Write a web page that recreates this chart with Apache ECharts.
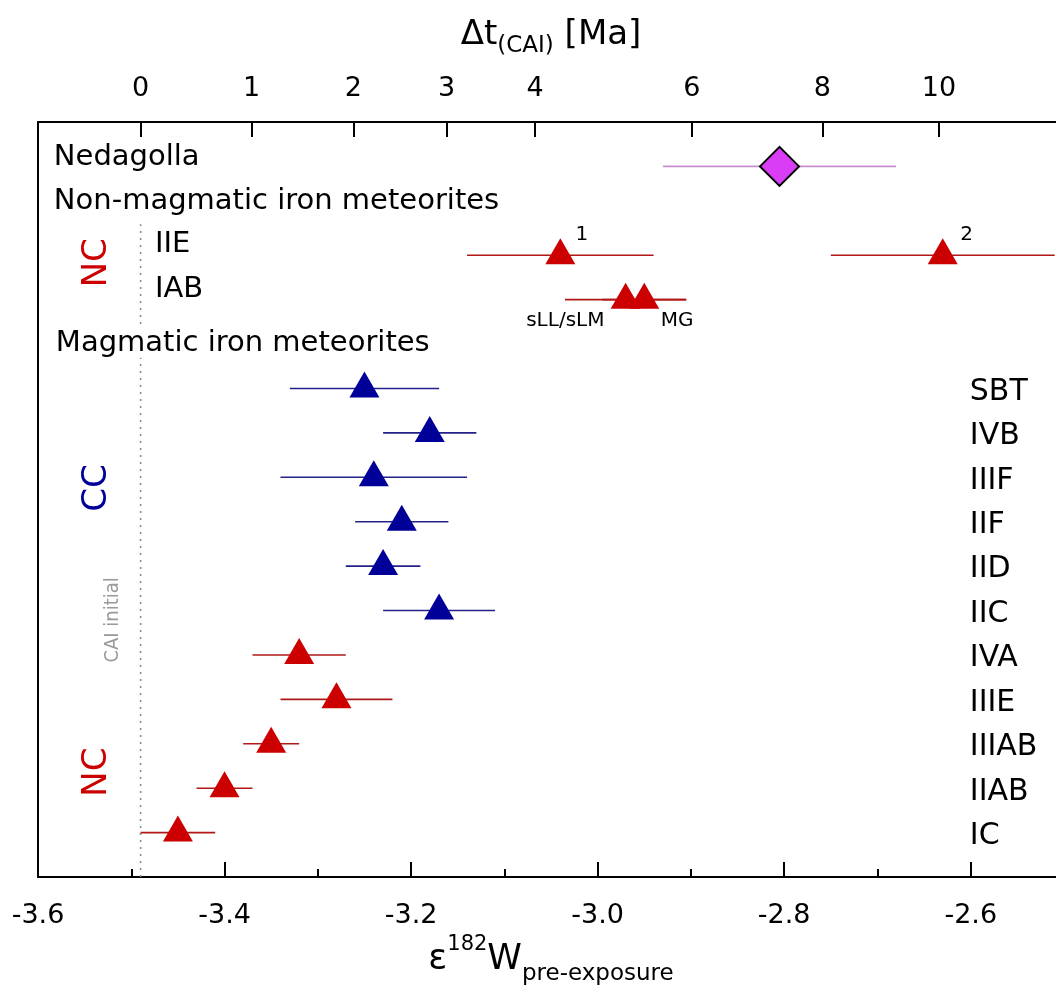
<!DOCTYPE html>
<html><head><meta charset="utf-8">
<script src="https://cdn.jsdelivr.net/npm/echarts@6/dist/echarts.min.js"></script>
<style>html,body{margin:0;padding:0;background:#fff;overflow:hidden}#c{width:1064px;height:1007px}</style>
</head><body><div id="c"></div>
<script>
// ---------------- DATA ----------------
// Magmatic iron meteorite groups (bottom to top)
const magmaticGroups = ['IC','IIAB','IIIAB','IIIE','IVA','IIC','IID','IIF','IIIF','IVB','SBT'];
const magmaticEps    = [-3.45,-3.40,-3.35,-3.28,-3.32,-3.17,-3.23,-3.21,-3.24,-3.18,-3.25];
const magmaticErr    = [0.04, 0.03, 0.03, 0.06, 0.05, 0.06, 0.04, 0.05, 0.10, 0.05, 0.08];
const magmaticRes    = ['NC','NC','NC','NC','NC','CC','CC','CC','CC','CC','CC'];
// Non-magmatic iron meteorites
const nonMagGroup = ['IIE','IIE','IAB','IAB'];
const nonMagTag   = ['1','2','sLL/sLM','MG'];
const nonMagEps   = [-3.04,-2.63,-2.97,-2.95];
const nonMagErr   = [0.10, 0.12, 0.065, 0.045];
// Nedagolla
const nedagollaEps = [-2.805];
const nedagollaErr = [0.125];
// CAI initial
const caiInitialEps = -3.49;
// Top axis: time after CAI (Ma) and its position on the epsilon scale
const topTickLabels = [0, 1, 2, 3, 4, 6, 8, 10];
const topTickEps    = [-3.490, -3.371, -3.262, -3.162, -3.067, -2.899, -2.759, -2.634];

// ---------------- STYLE / LAYOUT ----------------
const FONT = 'DejaVu Sans';
const RED = '#cc0000', BLUE = '#000099';
const RED_BAR = '#b01818', BLUE_BAR = '#22228a', PURPLE_BAR = '#c98fd2';
const rowOf = {};
magmaticGroups.forEach((g, i) => rowOf[g] = i);
rowOf['IAB'] = 12; rowOf['IIE'] = 13; rowOf['Nedagolla'] = 15;

const annotations = [
  {text:'Nedagolla', at:[-3.583, 15.21], size:29},
  {text:'Non-magmatic iron meteorites', at:[-3.583, 14.20], size:29},
  {text:'IIE', at:[-3.4746, 13.25], size:29},
  {text:'IAB', at:[-3.4746, 12.22], size:29},
  {text:'Magmatic iron meteorites', at:[-3.583, 11.02], size:29, bg:'#fff'},
  {text:nonMagTag[0], at:[-3.0169, 13.45], size:20, align:'center'},
  {text:nonMagTag[1], at:[-2.6043, 13.45], size:20, align:'center'},
  {text:nonMagTag[2], at:[-2.9927, 11.52], size:20, align:'right'},
  {text:nonMagTag[3], at:[-2.9323, 11.52], size:20},
  {text:'NC', at:[-3.5368, 12.83], size:34, color:RED, align:'center', rot:Math.PI/2},
  {text:'CC', at:[-3.5368, 7.76], size:34, color:BLUE, align:'center', rot:Math.PI/2},
  {text:'NC', at:[-3.5368, 1.36], size:34, color:RED, align:'center', rot:Math.PI/2},
  {text:'CAI initial', at:[-3.5196, 4.79], size:20, color:'#999', align:'center', rot:Math.PI/2, family:'"Liberation Sans Narrow", "DejaVu Sans Condensed", sans-serif'}
];
magmaticGroups.forEach((g, i) => annotations.push({text:g, at:[-2.601, i - 0.08], size:30}));

// ---------------- BUILD ----------------
const errData = [];
const errColor = [];
magmaticEps.forEach((e, i) => {
  errData.push([e - magmaticErr[i], e + magmaticErr[i], i]);
  errColor.push(magmaticRes[i] === 'NC' ? RED_BAR : BLUE_BAR);
});
nonMagEps.forEach((e, i) => {
  errData.push([e - nonMagErr[i], e + nonMagErr[i], rowOf[nonMagGroup[i]]]);
  errColor.push(RED_BAR);
});
nedagollaEps.forEach((e, i) => {
  errData.push([e - nedagollaErr[i], e + nedagollaErr[i], rowOf['Nedagolla']]);
  errColor.push(PURPLE_BAR);
});

const triSize = [30, 26], triOffset = [0, -4];
const magData = magmaticEps.map((e, i) => ({
  value: [e, i],
  itemStyle: {color: magmaticRes[i] === 'NC' ? RED : BLUE, opacity: 1}
}));
const nonMagData = nonMagEps.map((e, i) => [e, rowOf[nonMagGroup[i]]]);
const nedData = nedagollaEps.map(e => [e, rowOf['Nedagolla']]);

const chart = echarts.init(document.getElementById('c'), null, {renderer: 'canvas'});
const axisLine = {show: true, onZero: false, lineStyle: {color: '#000', width: 2}};
const labelStyle = {fontSize: 27, color: '#000', fontFamily: FONT};

chart.setOption({
  backgroundColor: '#fff',
  animation: false,
  grid: {left: 38, top: 122, bottom: 130, right: 0, containLabel: false},
  xAxis: [
    {
      type: 'value', position: 'bottom', min: -3.6, max: -2.5, interval: 0.2,
      axisLine: axisLine,
      axisTick: {show: true, inside: true, length: 15, lineStyle: {color: '#000', width: 2}},
      minorTick: {show: true, splitNumber: 2, length: 8, lineStyle: {color: '#000', width: 2}},
      splitLine: {show: false},
      axisLabel: Object.assign({margin: 25, showMaxLabel: false, formatter: v => v.toFixed(1)}, labelStyle),
      name: '{m|ε}{sup|182}{m|W}{sub|pre-exposure}',
      nameLocation: 'middle', nameGap: 53,
      nameTextStyle: {rich: {
        m: {fontSize: 35, fontFamily: FONT, color: '#000', lineHeight: 52, verticalAlign: 'middle'},
        sup: {fontSize: 21, fontFamily: FONT, color: '#000', lineHeight: 36, verticalAlign: 'top'},
        sub: {fontSize: 23, fontFamily: FONT, color: '#000', lineHeight: 22, verticalAlign: 'bottom'}
      }}
    },
    {
      type: 'value', position: 'top', min: -3.6, max: -2.5,
      axisLine: axisLine,
      axisTick: {show: true, inside: true, length: 15, customValues: topTickEps, lineStyle: {color: '#000', width: 2}},
      splitLine: {show: false},
      axisLabel: Object.assign({margin: 20, customValues: topTickEps,
        formatter: v => {
          let best = 0;
          topTickEps.forEach((t, i) => { if (Math.abs(t - v) < Math.abs(topTickEps[best] - v)) best = i; });
          return String(topTickLabels[best]);
        }}, labelStyle),
      name: '{m|Δt}{sub|(CAI)}{m| [Ma]}',
      nameLocation: 'middle', nameGap: 64,
      nameTextStyle: {rich: {
        m: {fontSize: 34, fontFamily: FONT, color: '#000', lineHeight: 46, verticalAlign: 'middle'},
        sub: {fontSize: 23, fontFamily: FONT, color: '#000', lineHeight: 26, verticalAlign: 'bottom'}
      }}
    }
  ],
  yAxis: {
    type: 'value', min: -1, max: 16,
    axisLine: axisLine, axisTick: {show: false}, axisLabel: {show: false}, splitLine: {show: false}
  },
  series: [
    {
      name: 'CAI initial', type: 'line', xAxisIndex: 0, symbol: 'none', silent: true,
      data: [[caiInitialEps, -1], [caiInitialEps, 13.7]],
      lineStyle: {color: '#8a8a8a', width: 1.6, type: [2, 5]}, z: 1
    },
    {
      name: 'errors', type: 'custom', xAxisIndex: 0, clip: false, silent: true, z: 2,
      encode: {x: [0, 1], y: 2},
      data: errData,
      renderItem: (params, api) => {
        const a = api.coord([api.value(0), api.value(2)]);
        const b = api.coord([api.value(1), api.value(2)]);
        return {type: 'line', shape: {x1: a[0], y1: a[1], x2: b[0], y2: b[1]},
          style: {stroke: errColor[params.dataIndex], lineWidth: 1.6}};
      }
    },
    {
      name: 'Magmatic', type: 'scatter', xAxisIndex: 0, symbol: 'triangle',
      symbolSize: triSize, symbolOffset: triOffset, data: magData, z: 3,
      itemStyle: {opacity: 1}
    },
    {
      name: 'Non-magmatic', type: 'scatter', xAxisIndex: 0, symbol: 'triangle',
      symbolSize: triSize, symbolOffset: triOffset, data: nonMagData,
      itemStyle: {color: RED, opacity: 1}, z: 3
    },
    {
      name: 'Nedagolla', type: 'scatter', xAxisIndex: 0, symbol: 'diamond',
      symbolSize: 39, data: nedData,
      itemStyle: {color: '#d93df5', borderColor: '#000', borderWidth: 2, opacity: 1}, z: 4
    },
    {
      name: 'labels', type: 'custom', xAxisIndex: 0, clip: false, silent: true, z: 5,
      encode: {x: 0, y: 1},
      data: annotations.map(a => a.at),
      renderItem: (params, api) => {
        const a = annotations[params.dataIndex];
        const p = api.coord([api.value(0), api.value(1)]);
        const st = {
          text: a.text, fill: a.color || '#000',
          font: a.size + 'px ' + (a.family || ('"' + FONT + '"')),
          align: a.align || 'left', verticalAlign: 'middle'
        };
        if (a.bg) { st.backgroundColor = a.bg; st.padding = [0, 2]; }
        return {type: 'text', x: p[0], y: p[1], rotation: a.rot || 0, style: st};
      }
    }
  ]
});
</script>
</body></html>
